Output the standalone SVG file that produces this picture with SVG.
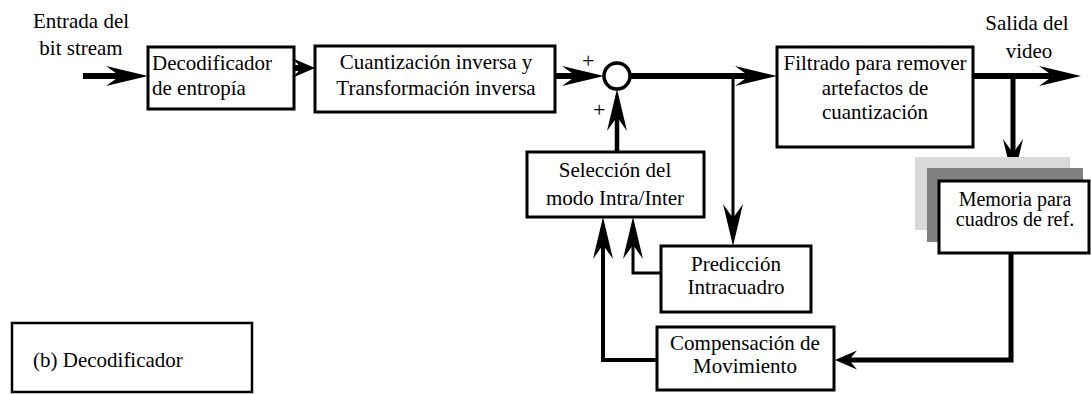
<svg xmlns="http://www.w3.org/2000/svg" width="1091" height="394" viewBox="0 0 1091 394" font-family="'Liberation Serif', 'DejaVu Serif', 'Times New Roman', serif">
<style>
text{font-family:'Liberation Serif','DejaVu Serif','Times New Roman',serif;font-size:21px;fill:#000}
.c{text-anchor:middle}
.box{fill:#fff;stroke:#000;stroke-width:3}
.ln{fill:none;stroke:#000}
.plus{font-size:22px}
</style>
<defs>
<marker id="al" markerUnits="userSpaceOnUse" viewBox="-44 -11 46 22" markerWidth="46" markerHeight="22" refX="-14" refY="0" orient="auto" overflow="visible">
<path d="M0,0 L-42,-10 L-28,0 L-42,10 Z" fill="#000"/>
</marker>
<marker id="as" markerUnits="userSpaceOnUse" viewBox="-24 -10 26 20" markerWidth="26" markerHeight="20" refX="-8" refY="0" orient="auto" overflow="visible">
<path d="M0,0 L-22,-9.5 L-14,0 L-22,9.5 Z" fill="#000"/>
</marker>
</defs>
<rect width="1091" height="394" fill="#fff"/>

<g id="labels">
<text class="c" x="81" y="28">Entrada del</text>
<text class="c" x="81" y="55">bit stream</text>
<text class="c" x="1027" y="30">Salida del</text>
<text class="c" x="1029" y="58">video</text>
<text class="plus" x="582" y="68">+</text>
<text class="plus" x="593" y="117">+</text>
</g>

<g id="connectors">
<line class="ln" x1="83" y1="76" x2="134" y2="76" stroke-width="6" marker-end="url(#al)"/>
<line class="ln" x1="294" y1="68" x2="307" y2="68" stroke-width="6" marker-end="url(#as)"/>
<line class="ln" x1="555" y1="76" x2="590" y2="76" stroke-width="6" marker-end="url(#al)"/>
<line class="ln" x1="630" y1="76" x2="763" y2="76" stroke-width="6" marker-end="url(#al)"/>
<line class="ln" x1="973" y1="76" x2="1067" y2="76" stroke-width="6" marker-end="url(#al)"/>
<line class="ln" x1="1013" y1="76" x2="1013" y2="167" stroke-width="5" marker-end="url(#al)"/>
<line class="ln" x1="733" y1="76" x2="733" y2="232" stroke-width="3" marker-end="url(#al)"/>
<line class="ln" x1="617" y1="152" x2="617" y2="103" stroke-width="4.5" marker-end="url(#al)"/>
<path class="ln" d="M661,273 H633 V231" stroke-width="3" marker-end="url(#al)"/>
<path class="ln" d="M657,360 H603 V231" stroke-width="4" marker-end="url(#al)"/>
<path class="ln" d="M1011,253 V360 H843" stroke-width="5" marker-end="url(#as)"/>
</g>

<g id="sum">
<circle cx="617" cy="76" r="13" fill="#fff" stroke="#000" stroke-width="3.5"/>
</g>

<g id="decodificador-entropia">
<rect class="box" x="148" y="47" width="146" height="62"/>
<text x="152" y="70">Decodificador</text>
<text x="152" y="95">de entropía</text>
</g>

<g id="cuantizacion">
<rect class="box" x="315" y="46" width="240" height="66"/>
<text class="c" x="436" y="69">Cuantización inversa y</text>
<text class="c" x="436" y="95">Transformación inversa</text>
</g>

<g id="filtrado">
<rect class="box" x="777" y="47" width="196" height="100"/>
<text class="c" x="875" y="70">Filtrado para remover</text>
<text class="c" x="875" y="95">artefactos de</text>
<text class="c" x="875" y="119">cuantización</text>
</g>

<g id="seleccion">
<rect class="box" x="527" y="152" width="177" height="65"/>
<text class="c" x="615" y="177">Selección del</text>
<text class="c" x="615" y="205">modo Intra/Inter</text>
</g>

<g id="prediccion">
<rect class="box" x="661" y="246" width="150" height="66"/>
<text class="c" x="736" y="271">Predicción</text>
<text class="c" x="736" y="294">Intracuadro</text>
</g>

<g id="compensacion">
<rect class="box" x="657" y="327" width="177" height="63"/>
<text class="c" x="745" y="350">Compensación de</text>
<text class="c" x="745" y="373">Movimiento</text>
</g>

<g id="memoria">
<rect x="915" y="157" width="155" height="73" fill="#d9d9d9"/>
<rect x="927" y="168" width="156" height="74" fill="#808080"/>
<rect class="box" x="939" y="181" width="150" height="72"/>
<text class="c" x="1015" y="206" style="font-size:20px">Memoria para</text>
<text class="c" x="1015" y="226" style="font-size:20px">cuadros de ref.</text>
</g>

<g id="leyenda">
<rect x="12" y="323" width="240" height="69" fill="#fff" stroke="#000" stroke-width="2.5"/>
<text x="33" y="367">(b) Decodificador</text>
</g>
</svg>
